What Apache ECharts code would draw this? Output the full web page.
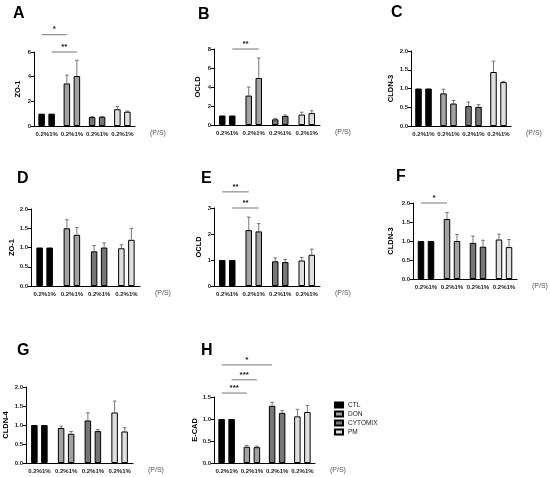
<!DOCTYPE html>
<html><head><meta charset="utf-8">
<script src="https://cdn.jsdelivr.net/npm/echarts@6/dist/echarts.min.js"></script>
<style>html,body{margin:0;padding:0;background:#fff}#c{width:550px;height:477px}</style>
</head><body><div id="c"></div>
<script>
// ---------- data ----------
const groups = ['CTL', 'DON', 'CYTOMIX', 'PM'];
const doses = ['0.2%', '1%'];
const panelLetters = ['A', 'B', 'C', 'D', 'E', 'F', 'G', 'H'];
const yNames = ['ZO-1', 'OCLD', 'CLDN-3', 'ZO-1', 'OCLD', 'CLDN-3', 'CLDN-4', 'E-CAD'];
const yMax = [6, 8, 2, 2, 3, 2, 2, 1.5];
const yStep = [2, 2, 0.5, 0.5, 1, 0.5, 0.5, 0.5];
const yDecimals = [0, 0, 1, 1, 0, 1, 1, 1];
const xUnit = '(P/S)';

const A_mean02 = [1, 3.45, 0.72, 1.36], A_err02 = [0, 0.67, 0.05, 0.22];
const A_mean1  = [1, 4.05, 0.75, 1.16], A_err1  = [0, 1.28, 0.03, 0.05];
const B_mean02 = [1, 3.10, 0.60, 1.10], B_err02 = [0, 0.90, 0.10, 0.25];
const B_mean1  = [1, 4.95, 0.95, 1.25], B_err1  = [0, 2.10, 0.10, 0.25];
const C_mean02 = [1, 0.87, 0.53, 1.44], C_err02 = [0, 0.11, 0.11, 0.29];
const C_mean1  = [1, 0.60, 0.51, 1.17], C_err1  = [0, 0.08, 0.06, 0.02];
const D_mean02 = [1, 1.50, 0.90, 0.98], D_err02 = [0, 0.22, 0.15, 0.09];
const D_mean1  = [1, 1.33, 1.00, 1.20], D_err1  = [0, 0.19, 0.12, 0.30];
const E_mean02 = [1, 2.15, 0.95, 0.98], E_err02 = [0, 0.50, 0.13, 0.12];
const E_mean1  = [1, 2.10, 0.92, 1.20], E_err1  = [0, 0.30, 0.10, 0.22];
const F_mean02 = [1, 1.58, 0.95, 1.04], F_err02 = [0, 0.17, 0.18, 0.14];
const F_mean1  = [1, 1.00, 0.85, 0.84], F_err1  = [0, 0.17, 0.17, 0.20];
const G_mean02 = [1, 0.92, 1.12, 1.33], G_err02 = [0, 0.05, 0.20, 0.30];
const G_mean1  = [1, 0.77, 0.84, 0.83], G_err1  = [0, 0.06, 0.04, 0.10];
const H_mean02 = [1, 0.37, 1.30, 1.06], H_err02 = [0, 0.03, 0.08, 0.16];
const H_mean1  = [1, 0.36, 1.14, 1.16], H_err1  = [0, 0.02, 0.05, 0.15];

// significance brackets: [group1, dose1, group2, dose2, yValue, stars]
const A_sig = [[0, 0, 1, 0, 7.4, '*'], [0, 1, 1, 1, 6.0, '**']];
const B_sig = [[0, 1, 1, 1, 8.0, '**']];
const C_sig = [];
const D_sig = [];
const E_sig = [[0, 0, 1, 0, 3.62, '**'], [0, 1, 1, 1, 3.0, '**']];
const F_sig = [[0, 0, 1, 0, 2.0, '*']];
const G_sig = [];
const H_sig = [[0, 0, 2, 0, 2.23, '*'], [0, 1, 1, 1, 1.89, '***'], [0, 0, 1, 0, 1.59, '***']];

// ---------- styling / layout ----------
const FONT = '"Liberation Sans", Arial, sans-serif';
const fills = ['#000000', '#a2a2a2', '#767676', '#dedede'];
const grids = [
  { left: 34, top: 52, width: 101, height: 74 },
  { left: 214, top: 49, width: 106, height: 76 },
  { left: 411, top: 51, width: 100, height: 75 },
  { left: 31, top: 209, width: 109, height: 77 },
  { left: 214, top: 208, width: 106, height: 78 },
  { left: 413, top: 203, width: 104, height: 76 },
  { left: 26, top: 387, width: 107, height: 76 },
  { left: 214, top: 397, width: 101, height: 66 }
];
const nameGaps = [12, 12, 16, 14, 11, 18, 16, 12];
const letterPos = [[13, 6], [198, 7], [391, 5], [17, 171], [201, 171], [396, 169], [17, 343], [201, 343]];
const BAR_W = 6.5, HALF_PITCH = 5;

const panels = [
  [A_mean02, A_err02, A_mean1, A_err1, A_sig],
  [B_mean02, B_err02, B_mean1, B_err1, B_sig],
  [C_mean02, C_err02, C_mean1, C_err1, C_sig],
  [D_mean02, D_err02, D_mean1, D_err1, D_sig],
  [E_mean02, E_err02, E_mean1, E_err1, E_sig],
  [F_mean02, F_err02, F_mean1, F_err1, F_sig],
  [G_mean02, G_err02, G_mean1, G_err1, G_sig],
  [H_mean02, H_err02, H_mean1, H_err1, H_sig]
];

const grid = [], xAxis = [], yAxis = [], series = [], graphic = [];
const off = d => (d === 0 ? -HALF_PITCH : HALF_PITCH);

panels.forEach((p, i) => {
  const [m02, e02, m1, e1, sig] = p;
  grid.push(Object.assign({ containLabel: false }, grids[i]));
  xAxis.push({
    type: 'category', gridIndex: i, data: groups,
    axisLine: { lineStyle: { color: '#000', width: 1 } },
    axisTick: { show: false },
    axisLabel: { formatter: () => doses.join(''), fontSize: 6, fontWeight: 'bold', color: '#222', margin: 5, fontFamily: FONT, interval: 0 },
    name: xUnit, nameLocation: 'end', nameGap: 15,
    nameTextStyle: { fontSize: 7, color: '#555', fontFamily: FONT, verticalAlign: 'top', padding: [4, 0, 0, 0] }
  });
  yAxis.push({
    type: 'value', gridIndex: i, min: 0, max: yMax[i], interval: yStep[i],
    axisLine: { show: true, lineStyle: { color: '#000', width: 1 } },
    axisTick: { show: true, length: 3, lineStyle: { color: '#000' } },
    splitLine: { show: false },
    axisLabel: { fontSize: 6, fontWeight: 'bold', color: '#222', margin: 3, fontFamily: FONT,
      formatter: v => v.toFixed(yDecimals[i]) },
    name: yNames[i], nameLocation: 'middle', nameGap: nameGaps[i], nameRotate: 90,
    nameTextStyle: { fontSize: 7.5, fontWeight: 'bold', color: '#000', fontFamily: FONT }
  });
  [m02, m1].forEach((m, d) => {
    series.push({
      type: 'bar', name: doses[d], xAxisIndex: i, yAxisIndex: i,
      barWidth: BAR_W, barGap: '54%',
      data: m.map((v, g) => ({ value: v, itemStyle: { color: fills[g] } })),
      itemStyle: { borderColor: '#000', borderWidth: 1 },
      z: 2, silent: true
    });
  });
  const eb = [];
  [[m02, e02], [m1, e1]].forEach(([m, e], d) => {
    m.forEach((v, g) => { if (e[g] > 0) eb.push([g, v, v + e[g], d]); });
  });
  series.push({
    type: 'custom', xAxisIndex: i, yAxisIndex: i, z: 3, silent: true,
    encode: { x: 0, y: [1, 2] },
    data: eb,
    renderItem: (params, api) => {
      const g = api.value(0), d = api.value(3);
      const base = api.coord([g, api.value(1)]);
      const top = api.coord([g, api.value(2)]);
      const x = base[0] + off(d);
      const st = { stroke: '#555', lineWidth: 0.8 };
      return { type: 'group', children: [
        { type: 'line', shape: { x1: x, y1: base[1], x2: x, y2: top[1] }, style: st },
        { type: 'line', shape: { x1: x - 1.8, y1: top[1], x2: x + 1.8, y2: top[1] }, style: st }
      ] };
    }
  });
  if (sig.length) {
    series.push({
      type: 'custom', xAxisIndex: i, yAxisIndex: i, z: 4, silent: true, clip: false,
      encode: { x: 0, y: 1 },
      data: sig.map(s => [s[0], s[4], s[2], s[1], s[3]]),
      renderItem: (params, api) => {
        const y = api.value(1);
        const p1 = api.coord([api.value(0), y]);
        const p2 = api.coord([api.value(2), y]);
        const x1 = p1[0] + off(api.value(3)), x2 = p2[0] + off(api.value(4));
        return { type: 'group', children: [
          { type: 'line', shape: { x1: x1, y1: p1[1], x2: x2, y2: p1[1] }, style: { stroke: '#777', lineWidth: 1 } },
          { type: 'text', style: { text: sig[params.dataIndex][5], x: (x1 + x2) / 2, y: p1[1] - 1.5,
              align: 'center', verticalAlign: 'bottom', font: 'bold 8px ' + FONT, fill: '#111' } }
        ] };
      }
    });
  }
  graphic.push({ type: 'text', left: letterPos[i][0], top: letterPos[i][1],
    style: { text: panelLetters[i], font: 'bold 16px ' + FONT, fill: '#000' } });
});

// hidden grid for legend-only series
grid.push({ left: 0, top: 0, width: 1, height: 1, show: false });
xAxis.push({ type: 'category', gridIndex: 8, show: false, data: [] });
yAxis.push({ type: 'value', gridIndex: 8, show: false });
groups.forEach((g, k) => {
  series.push({ type: 'bar', name: g, xAxisIndex: 8, yAxisIndex: 8, data: [],
    itemStyle: { color: fills[k], borderColor: '#000', borderWidth: 1 } });
});

const chart = echarts.init(document.getElementById('c'), null, { renderer: 'canvas' });
chart.setOption({
  animation: false,
  backgroundColor: '#fff',
  grid, xAxis, yAxis, series, graphic,
  legend: {
    data: groups, orient: 'vertical', left: 329, top: 396,
    itemWidth: 8, itemHeight: 5, itemGap: 1, icon: 'rect', selectedMode: false,
    textStyle: { fontSize: 6.5, color: '#222', fontFamily: FONT, lineHeight: 8 }
  }
});
</script></body></html>
